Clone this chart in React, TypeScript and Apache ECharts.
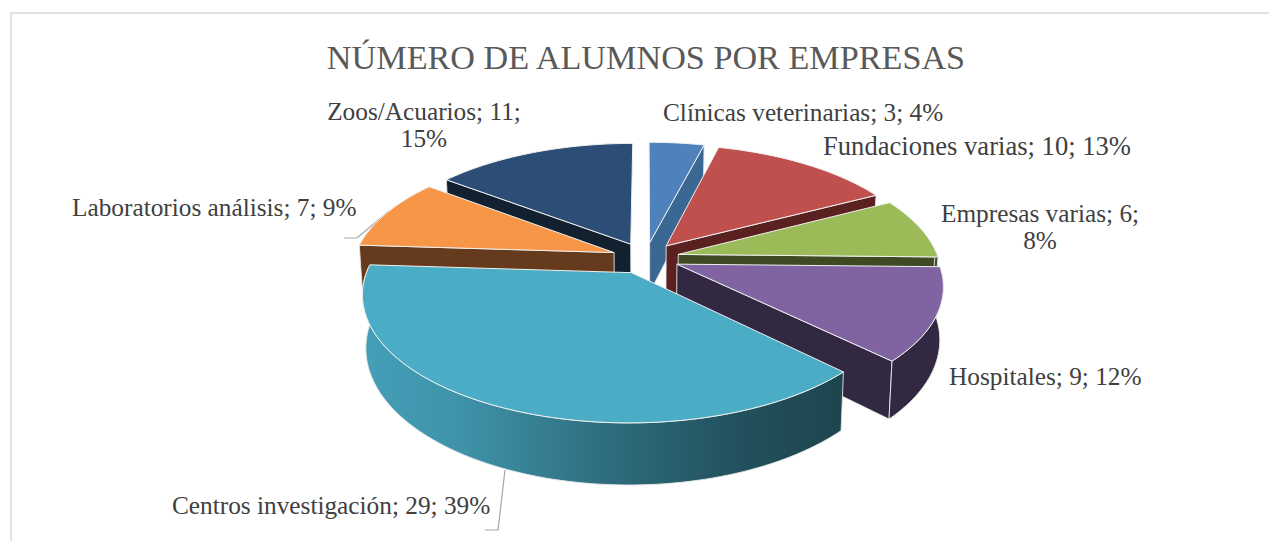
import React, { useEffect, useRef } from "react";
import * as echarts from "echarts";

const titleText = "NÚMERO DE ALUMNOS POR EMPRESAS";
const categories = ["Clínicas veterinarias", "Fundaciones varias", "Empresas varias", "Hospitales", "Centros investigación", "Laboratorios análisis", "Zoos/Acuarios"];
const values = [3, 10, 6, 9, 29, 7, 11];
const percents = [4, 13, 8, 12, 39, 9, 15];
const topColors = ["#4F81BD", "#C0504D", "#9BBB59", "#8064A2", "#4BACC6", "#F79646", "#2C4D75"];
const wallColors = ["#3B6793", "#5A2120", "#3F4A23", "#332842", "#1D454E", "#663A1C", "#12202F"];
const paintOrder = [6, 0, 1, 2, 5, 3, 4];
// label placement: [x, y, align, font size]
const labelPlace: any[] = [
  [663, 112, "left", 25.3], [823, 146, "left", 26.6], [1040, 226, "center", 25.3], [949, 376, "left", 25.3],
  [172, 505, "left", 25.3], [72, 207, "left", 25.3], [424, 124, "center", 25.3],
];
const labelBreak = [false, false, true, false, false, false, true];

const CX = 645.5, CY = 258, RX = 260, RY = 121, PERSP = 0.16, DEPTH = 51, EXPLODE = 0.13;
const FONT = "'Liberation Serif', serif";
const total = values.reduce((a, b) => a + b, 0);
const rad = (d: number) => (d * Math.PI) / 180;

function proj(wx: number, wy: number, low: boolean) {
  const s = 1 / (1 + PERSP * wy);
  const f = low ? 0.988 : 1;
  return [CX + wx * RX * s * f, CY - wy * RY * s + (low ? DEPTH * s : 0)];
}

function renderItem(params: any, api: any) {
  const i = paintOrder[params.dataIndex];
  const v = api.value(0);
  let before = 0;
  for (let k = 0; k < i; k++) before += values[k];
  const a0 = (before / total) * 360;
  const a1 = ((before + v) / total) * 360;
  const mid = (a0 + a1) / 2;
  const ox = EXPLODE * Math.sin(rad(mid));
  const oy = EXPLODE * Math.cos(rad(mid));
  const rim = (deg: number, low: boolean) => proj(ox + Math.sin(rad(deg)), oy + Math.cos(rad(deg)), low);
  const apex = (low: boolean) => proj(ox, oy, low);
  const arc = (from: number, to: number, low: boolean) => {
    const pts: number[][] = [];
    const n = Math.max(2, Math.ceil(Math.abs(to - from) / 1.5));
    for (let k = 0; k <= n; k++) pts.push(rim(from + ((to - from) * k) / n, low));
    return pts;
  };
  const z = (params.dataIndex + 1) * 10;
  const edge = { stroke: "#E8E8E8", lineWidth: 0.9, lineJoin: "round" };
  const children: any[] = [];
  const wall = (pts: number[][], fill: any, z2: number) =>
    children.push({ type: "polygon", z2, shape: { points: pts }, style: { fill, ...edge } });

  // walls turned to the viewer: the cut on the clockwise side, the cut on the other side, the rim
  const endVisible = Math.sin(rad(a1)) > 0.02;
  const startVisible = Math.sin(rad(a0)) < -0.02;
  if (endVisible) wall([apex(false), rim(a1, false), rim(a1, true), apex(true)], wallColors[i], z + 1);
  if (startVisible) wall([apex(false), rim(a0, false), rim(a0, true), apex(true)], wallColors[i], z + 1);
  const r0 = Math.max(a0, 88), r1 = Math.min(a1, 272);
  if (r1 > r0) {
    const isGradient = i === 4;
    const fill = isGradient
      ? { type: "linear", x: 0, y: 0, x2: 1, y2: 0, colorStops: [
          { offset: 0, color: "#449FB7" }, { offset: 0.2, color: "#3F93AA" }, { offset: 0.5, color: "#2F6E7F" },
          { offset: 0.8, color: "#214F5B" }, { offset: 1, color: "#1D454E" } ] }
      : wallColors[i];
    wall([...arc(r0, r1, false), ...arc(r1, r0, true)], fill, z + 2);
  }
  children.push({
    type: "polygon", z2: z + 3,
    shape: { points: [apex(false), ...arc(a0, a1, false)] },
    style: { fill: topColors[i], stroke: "#F0F0F0", lineWidth: 1, lineJoin: "round" },
  });

  const sep = labelBreak[i] ? "\n" : " ";
  const [lx, ly, al, fs] = labelPlace[i];
  children.push({
    type: "text", z2: 200, x: lx, y: ly,
    style: {
      text: `${categories[i]}; ${v};${sep}${percents[i]}%`,
      fill: "#404040", fontSize: fs, fontFamily: FONT, lineHeight: 27,
      align: al, textAlign: al, verticalAlign: "middle", textVerticalAlign: "middle",
    },
  });
  return { type: "group", children };
}

export default function App() {
  const ref = useRef<HTMLDivElement>(null);
  useEffect(() => {
    const chart = echarts.init(ref.current!, null, { renderer: "svg" });
    const leader = { stroke: "#A6A6A6", lineWidth: 1.2 };
    chart.setOption({
      animation: false,
      backgroundColor: "#FFFFFF",
      title: {
        text: titleText, left: 641, top: 35, textAlign: "center",
        textStyle: { color: "#595959", fontSize: 34.2, fontWeight: "normal", fontFamily: FONT },
      },
      graphic: [
        { type: "polyline", silent: true, shape: { points: [[11, 541], [11, 13], [1269, 13]] }, style: { fill: "none", stroke: "#D9D9D9", lineWidth: 1.5 } },
        { type: "polyline", silent: true, shape: { points: [[344, 238], [357, 238], [389, 211]] }, style: { fill: "none", ...leader } },
        { type: "polyline", silent: true, shape: { points: [[485, 530], [498, 530], [505, 470]] }, style: { fill: "none", ...leader } },
      ],
      series: [{
        type: "custom",
        coordinateSystem: "none",
        renderItem,
        data: paintOrder.map((i) => ({ name: categories[i], value: [values[i]] })),
      }],
    });
    return () => chart.dispose();
  }, []);
  return <div ref={ref} style={{ position: "fixed", left: 0, top: 0, width: 1269, height: 541 }} />;
}
